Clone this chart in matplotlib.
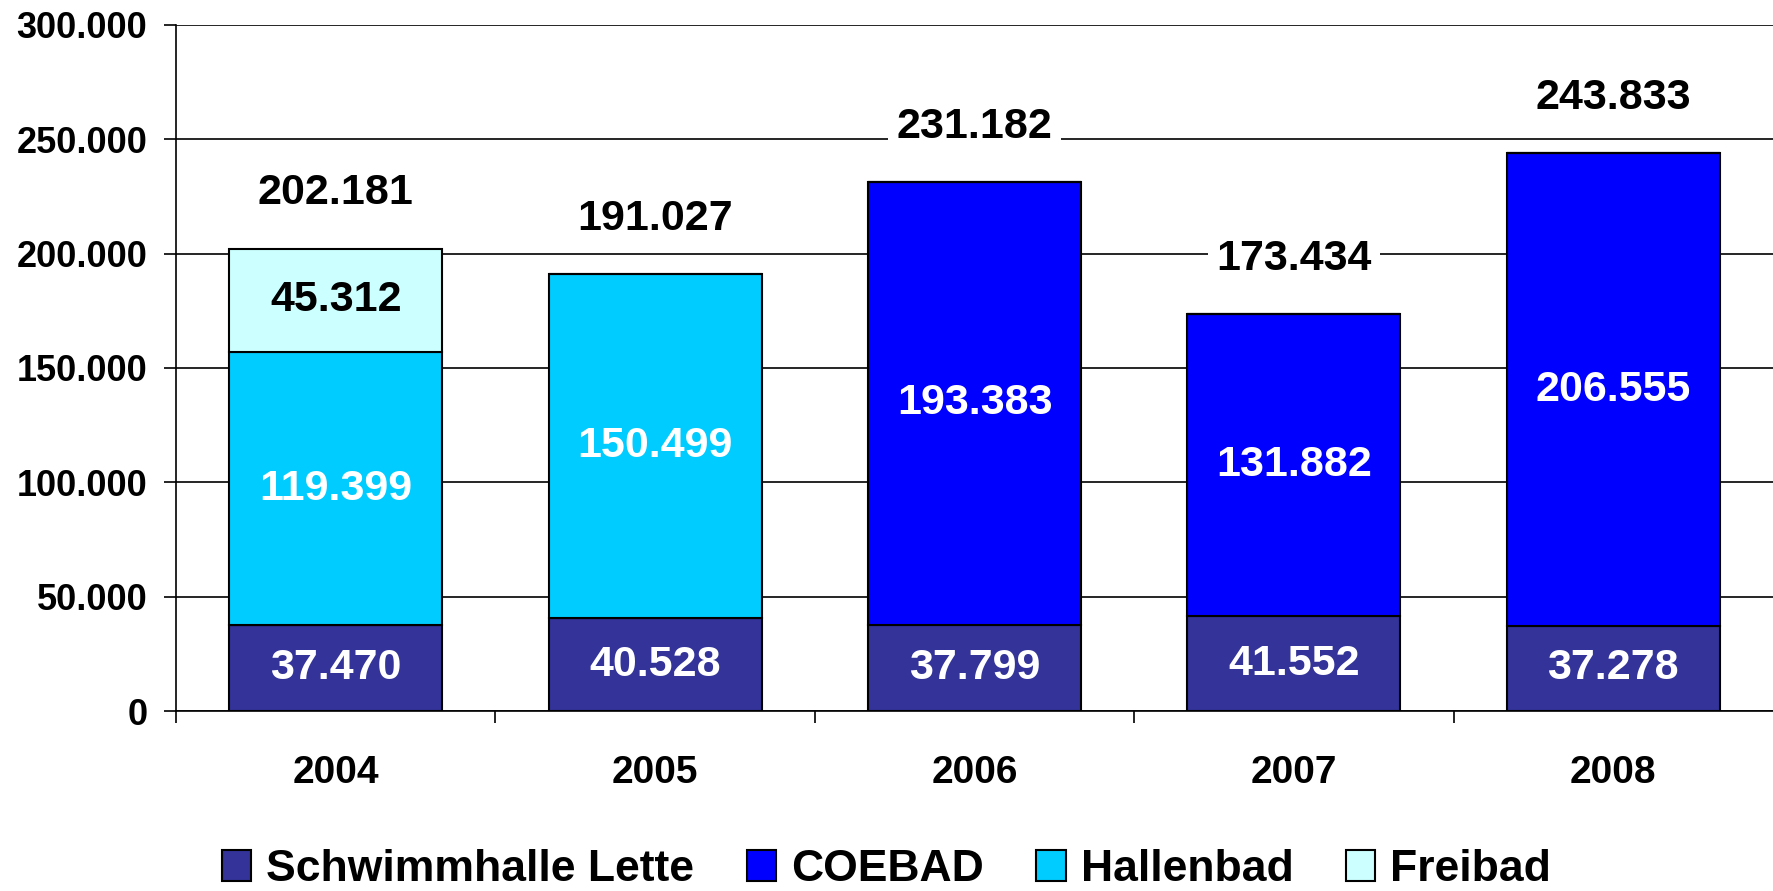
import numpy as np
import matplotlib
matplotlib.use('Agg')
import matplotlib.pyplot as plt
from matplotlib.ticker import FuncFormatter, FixedLocator

plt.rcParams['font.family'] = ['Liberation Sans', 'DejaVu Sans']
plt.rcParams['font.weight'] = 'bold'

years = ['2004', '2005', '2006', '2007', '2008']
series = ['Schwimmhalle Lette', 'COEBAD', 'Hallenbad', 'Freibad']
lette = [37470, 40528, 37799, 41552, 37278]
coebad = [0, 0, 193383, 131882, 206555]
hallenbad = [119399, 150499, 0, 0, 0]
freibad = [45312, 0, 0, 0, 0]
totals = [202181, 191027, 231182, 173434, 243833]
colors = ['#333399', '#0000ff', '#00ccff', '#ccffff']
label_colors = ['white', 'white', 'white', 'black']

def de_fmt(v, pos=None):
    return '{:,.0f}'.format(v).replace(',', '.')

fig = plt.figure(figsize=(17.73, 8.91), dpi=100)
ax = fig.add_axes([0.0993, 0.202, 0.9007, 0.770])

x = np.arange(len(years))
bottom = np.zeros(len(years))
for vals, name, col, tcol in zip([lette, coebad, hallenbad, freibad], series, colors, label_colors):
    vals = np.array(vals, dtype=float)
    ax.bar(x, vals, width=0.667, bottom=bottom, color=col, edgecolor='black',
           linewidth=1.5, label=name, zorder=2)
    for xi, b, v in zip(x, bottom, vals):
        if v > 0:
            ax.text(xi, b + v / 2, de_fmt(v), ha='center', va='center',
                    fontsize=31, fontweight='bold', color=tcol, zorder=4)
    bottom += vals

# totals above the stacks, white box hides the gridline
for xi, t in zip(x, totals):
    ax.annotate(de_fmt(t), (xi, t), xytext=(0, 40), textcoords='offset points',
                ha='center', va='center', fontsize=31, fontweight='bold',
                bbox=dict(boxstyle='square,pad=0.2', fc='white', ec='none'), zorder=5)

ax.set_xlim(-0.5, len(years) - 0.5)
ax.set_ylim(0, 300000)
ax.yaxis.set_major_locator(FixedLocator(np.arange(0, 300001, 50000)))
ax.yaxis.set_major_formatter(FuncFormatter(de_fmt))
ax.grid(axis='y', color='black', linewidth=1.2, zorder=1)
ax.set_axisbelow(True)

ax.set_xticks(x)
ax.set_xticklabels(years)
ax.set_xticks(np.arange(-0.5, len(years) - 0.5, 1.0), minor=True)
ax.tick_params(axis='x', which='major', length=0, pad=32, labelsize=28)
ax.tick_params(axis='x', which='minor', length=8.6, width=1.2, direction='out')
ax.tick_params(axis='y', length=8.6, width=1.2, pad=12, labelsize=26)
for lab in ax.get_xticklabels() + ax.get_yticklabels():
    lab.set_fontweight('bold')

for s in ['top', 'right']:
    ax.spines[s].set_visible(False)
ax.spines['left'].set_linewidth(1.2)
ax.spines['bottom'].set_linewidth(1.2)

handles, labels = ax.get_legend_handles_labels()
fig.legend(handles, labels, loc='center', bbox_to_anchor=(0.5, 0.024), ncol=4,
           frameon=False, prop={'weight': 'bold', 'size': 32},
           handlelength=0.66, handleheight=0.68, handletextpad=0.34,
           columnspacing=1.18, borderpad=0)

fig.savefig('out.png', dpi=100)
